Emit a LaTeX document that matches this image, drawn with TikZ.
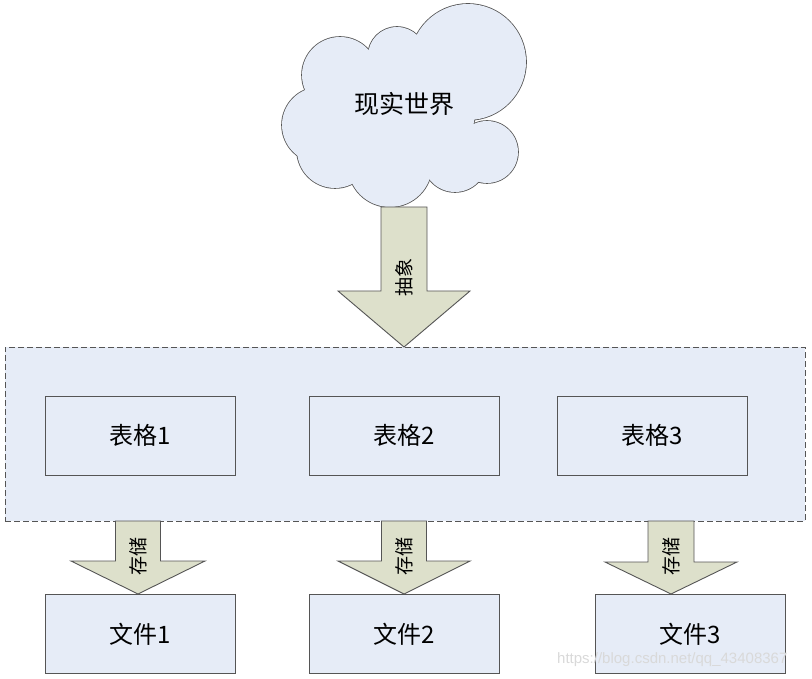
\documentclass[tikz,border=0pt]{standalone}
\usepackage{fontspec}
\setmainfont{Noto Sans CJK SC}
\newfontfamily\wmfont{Liberation Sans}
\definecolor{bluefill}{HTML}{E6ECF7}
\definecolor{arrowfill}{HTML}{DDE0CB}
\definecolor{edge}{HTML}{555555}
\newcommand\blockarrow[9]{% cx, top, shoulder, tip, halfshaft, halfhead, label, labely, name
  \draw[blockarrowstyle] ({#1-#5},{#2}) -- ({#1+#5},{#2}) -- ({#1+#5},{#3}) -- ({#1+#6},{#3})
    -- (#1,#4) -- ({#1-#6},{#3}) -- ({#1-#5},{#3}) -- cycle;
  \node[arrowlabel] (#9) at (#1,#8) {#7};
}
\begin{document}
\begin{tikzpicture}[x=1pt,y=-1pt,
  box/.style={draw=edge, line width=1pt, fill=bluefill, minimum width=190pt,
    minimum height=79pt, inner sep=0pt, font=\fontsize{24}{26}\selectfont},
  container/.style={draw=edge, line width=0.9pt, dash pattern=on 6pt off 3pt,
    fill=bluefill, minimum width=800pt, minimum height=174pt, inner sep=0pt},
  blockarrowstyle/.style={draw=edge, line width=0.9pt, fill=arrowfill, line join=miter},
  arrowlabel/.style={rotate=90, font=\fontsize{19}{20}\selectfont, inner sep=0pt},
  cloudline/.style={draw=edge, line width=1.6pt},
  cloudfill/.style={fill=bluefill}]
\useasboundingbox (0,0) rectangle (812,679);
% cloud: stroke circles, then fill over them
\foreach \x/\y/\r in {468/62/58, 397/56/29, 340/75/38, 320/125/38, 335/150/38,
                      390/165/42, 455/160/32, 487/152/31, 405/110/70}
  \draw[cloudline] (\x,\y) circle[radius=\r pt];
\foreach \x/\y/\r in {468/62/58, 397/56/29, 340/75/38, 320/125/38, 335/150/38,
                      390/165/42, 455/160/32, 487/152/31, 405/110/70}
  \fill[cloudfill] (\x,\y) circle[radius=\r pt];
\node[font=\fontsize{25}{27}\selectfont] (world) at (404,104) {现实世界};
% container
\node[container] (db) at (405,434) {};
\node[box] (t1) at (140,435.5) {表格1};
\node[box] (t2) at (404,435.5) {表格2};
\node[box] (t3) at (652,435.5) {表格3};
% arrows
\blockarrow{404}{207}{291}{347}{23}{66}{抽象}{278}{abs}
\blockarrow{138}{521}{561}{594}{22.5}{67}{存储}{556}{s1}
\blockarrow{404}{521}{561}{594}{22.5}{66}{存储}{556}{s2}
\blockarrow{671}{521}{562}{594}{23}{66}{存储}{556}{s3}
% files
\node[box] (f1) at (140,634) {文件1};
\node[box] (f2) at (404,634) {文件2};
\node[box] (f3) at (690,634) {文件3};
\node[anchor=west, text=gray!30, font=\wmfont\fontsize{15}{16}\selectfont, inner sep=0pt] (wm)
  at (557,660) {https://blog.csdn.net/qq\_43408367};
\end{tikzpicture}
\end{document}
